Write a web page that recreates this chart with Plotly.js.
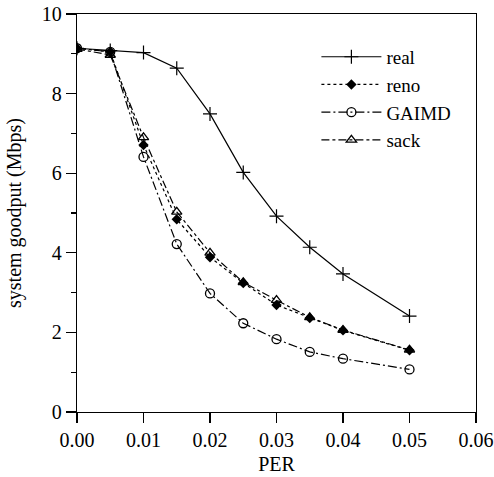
<!DOCTYPE html>
<html>
<head>
<meta charset="utf-8">
<script src="https://cdn.plot.ly/plotly-3.0.1.min.js"></script>
<style>html,body{margin:0;padding:0;background:#fff;}#chart{width:494px;height:477px;}</style>
</head>
<body>
<div id="chart"></div>
<script>
const per = [0.00, 0.005, 0.01, 0.015, 0.02, 0.025, 0.03, 0.035, 0.04, 0.05];
const real = [9.14, 9.08, 9.03, 8.64, 7.49, 6.02, 4.92, 4.14, 3.47, 2.41];
const reno = [9.14, 9.05, 6.71, 4.84, 3.89, 3.24, 2.69, 2.36, 2.05, 1.55];
const gaimd = [9.14, 9.05, 6.41, 4.22, 2.98, 2.23, 1.83, 1.51, 1.34, 1.07];
const sack = [9.12, 8.97, 6.90, 5.03, 4.00, 3.26, 2.81, 2.38, 2.06, 1.56];
const seriesNames = ['real', 'reno', 'GAIMD', 'sack'];

const font = 'Liberation Serif, Times New Roman, serif';
const traces = [
  {x: per, y: real, name: seriesNames[0], mode: 'lines+markers',
   line: {color: '#000', width: 1.2, dash: 'solid'},
   marker: {symbol: 'cross-thin', size: 10, line: {color: '#000', width: 1.2}}},
  {x: per, y: reno, name: seriesNames[1], mode: 'lines+markers',
   line: {color: '#000', width: 1.2, dash: 'dot'},
   marker: {symbol: 'diamond', size: 8, color: '#000'}},
  {x: per, y: gaimd, name: seriesNames[2], mode: 'lines+markers',
   line: {color: '#000', width: 1.2, dash: '9px,3px,2px,3px'},
   marker: {symbol: 'circle-open', size: 9, color: '#000', line: {width: 1.3}}},
  {x: per, y: sack, name: seriesNames[3], mode: 'lines+markers',
   line: {color: '#000', width: 1.2, dash: '8px,3px,3px,3px'},
   marker: {symbol: 'triangle-up-open', size: 9, color: '#000', line: {width: 1.3}}}
];

const layout = {
  width: 494, height: 477,
  margin: {l: 77, r: 18, t: 14, b: 65},
  paper_bgcolor: '#fff', plot_bgcolor: '#fff',
  font: {family: font, size: 20, color: '#000'},
  showlegend: true,
  legend: {x: 0.6, y: 0.94, xanchor: 'left', yanchor: 'top',
           bgcolor: 'rgba(0,0,0,0)', font: {family: font, size: 19},
           tracegroupgap: 0, itemwidth: 60},
  xaxis: {range: [0, 0.06], dtick: 0.01, tickformat: '.2f',
          showgrid: false, zeroline: false, showline: true, mirror: true,
          linecolor: '#000', linewidth: 1.2, ticks: 'outside', ticklen: 10,
          tickwidth: 1.2, tickcolor: '#000', tickfont: {family: font, size: 20},
          title: {text: 'PER', font: {family: font, size: 20}, standoff: 6}},
  yaxis: {range: [0, 10], dtick: 2, showgrid: false, zeroline: false,
          showline: true, mirror: true, linecolor: '#000', linewidth: 1.2,
          ticks: 'outside', ticklen: 10, tickwidth: 1.2, tickcolor: '#000',
          tickfont: {family: font, size: 20},
          minor: {dtick: 1, ticks: 'outside', ticklen: 5, tickcolor: '#000', tickwidth: 1.2, showgrid: false},
          title: {text: 'system goodput (Mbps)', font: {family: font, size: 20}, standoff: 14}}
};

Plotly.newPlot('chart', traces, layout, {staticPlot: true, displayModeBar: false});
</script>
</body>
</html>
